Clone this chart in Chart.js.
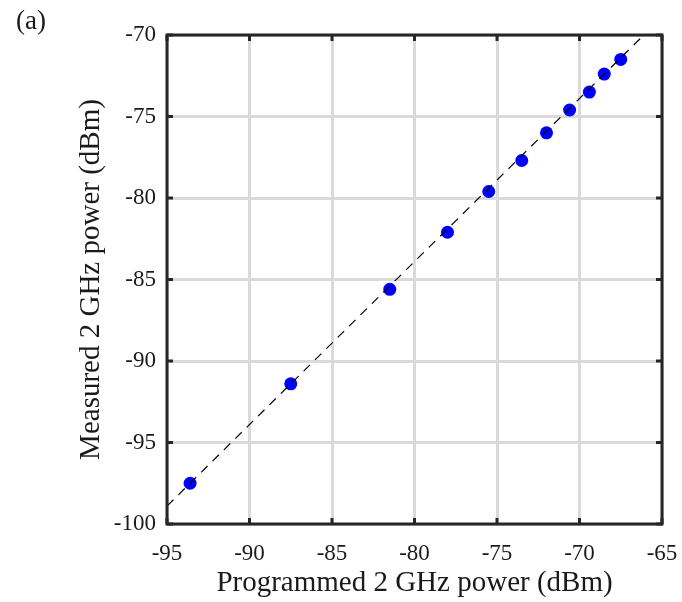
<!DOCTYPE html>
<html>
<head>
<meta charset="utf-8">
<script src="https://cdn.jsdelivr.net/npm/chart.js@4"></script>
<style>
  html, body { margin: 0; padding: 0; background: #fff; }
  #wrap { width: 682px; height: 602px; }
</style>
</head>
<body>
<div id="wrap"><canvas id="grafico" width="682" height="602"></canvas></div>
<script>
// dados
const programado = [-93.6, -87.5, -81.5, -78.0, -75.5, -73.5, -72.0, -70.6, -69.4, -68.5, -67.5];
const medido     = [-97.5, -91.4, -85.6, -82.1, -79.6, -77.7, -76.0, -74.6, -73.5, -72.4, -71.5];
// linha de referencia tracejada (extremos)
const linhaX = [-95, -66.1];
const linhaY = [-98.9, -70];
const ticksX = [-95, -90, -85, -80, -75, -70, -65];
const ticksY = [-100, -95, -90, -85, -80, -75, -70];

const serif = "'Liberation Serif', 'DejaVu Serif', serif";

// moldura + ticks para dentro nos quatro lados
const moldura = {
  id: 'moldura',
  afterDatasetsDraw(chart) {
    const { ctx, chartArea: a, scales } = chart;
    ctx.save();
    ctx.strokeStyle = '#262626';
    ctx.lineWidth = 3;
    const len = 6;
    ctx.beginPath();
    ticksX.forEach(v => {
      const x = scales.x.getPixelForValue(v);
      ctx.moveTo(x, a.bottom); ctx.lineTo(x, a.bottom - len);
      ctx.moveTo(x, a.top); ctx.lineTo(x, a.top + len);
    });
    ticksY.forEach(v => {
      const y = scales.y.getPixelForValue(v);
      ctx.moveTo(a.left, y); ctx.lineTo(a.left + len, y);
      ctx.moveTo(a.right, y); ctx.lineTo(a.right - len, y);
    });
    ctx.stroke();
    ctx.strokeRect(a.left, a.top, a.right - a.left, a.bottom - a.top);
    ctx.fillStyle = '#1a1a1a';
    ctx.font = "27px " + serif;
    ctx.textBaseline = 'middle';
    ctx.fillText('(a)', 16, 22);
    ctx.restore();
  }
};

const dadosPontos = programado.map((x, i) => ({ x: x, y: medido[i] }));
const dadosLinha = linhaX.map((x, i) => ({ x: x, y: linhaY[i] }));

new Chart(document.getElementById('grafico'), {
  type: 'scatter',
  data: {
    datasets: [
      {
        type: 'line',
        data: dadosLinha,
        borderColor: '#000',
        borderWidth: 1.2,
        borderDash: [9, 7],
        pointRadius: 0,
        fill: false
      },
      {
        data: dadosPontos,
        backgroundColor: '#0000ff',
        borderColor: '#0000ff',
        pointRadius: 6.5,
        borderWidth: 0
      }
    ]
  },
  options: {
    responsive: false,
    animation: false,
    layout: { padding: { top: 35, right: 20, left: 74, bottom: 0 } },
    plugins: { legend: { display: false }, tooltip: { enabled: false } },
    scales: {
      x: {
        type: 'linear', min: -95, max: -65,
        afterBuildTicks: s => { s.ticks = ticksX.map(v => ({ value: v })); },
        afterFit: s => { s.height = 78; s.paddingLeft = 0; s.paddingRight = 0; },
        grid: { color: '#dadada', lineWidth: 3, drawTicks: false },
        border: { display: false },
        ticks: { color: '#1a1a1a', font: { family: serif, size: 23 }, padding: 16 },
        title: { display: true, text: 'Programmed 2 GHz power (dBm)', color: '#1a1a1a',
                 font: { family: serif, size: 29 }, padding: { top: 0, bottom: 1 } }
      },
      y: {
        type: 'linear', min: -100, max: -70,
        afterBuildTicks: s => { s.ticks = ticksY.map(v => ({ value: v })); },
        afterFit: s => { s.width = 93; s.paddingTop = 0; s.paddingBottom = 0; },
        grid: { color: '#dadada', lineWidth: 3, drawTicks: false },
        border: { display: false },
        ticks: { color: '#1a1a1a', font: { family: serif, size: 23 }, padding: 11 },
        title: { display: true, text: 'Measured 2 GHz power (dBm)', color: '#1a1a1a',
                 font: { family: serif, size: 29 }, padding: { top: 0, bottom: 0 } }
      }
    }
  },
  plugins: [moldura]
});
</script>
</body>
</html>
